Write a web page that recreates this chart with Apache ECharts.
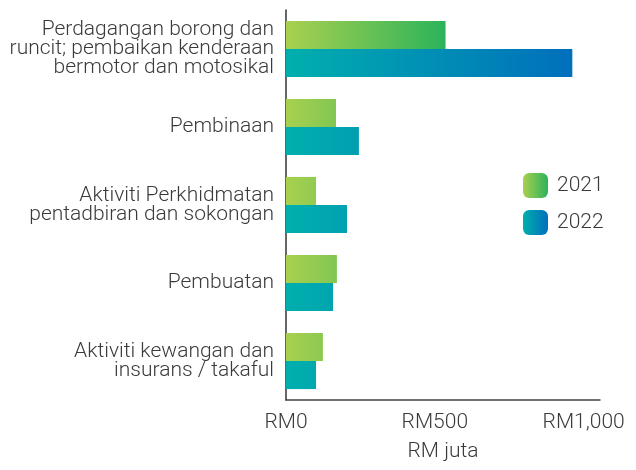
<!DOCTYPE html>
<html>
<head>
<meta charset="utf-8">
<script src="https://cdn.jsdelivr.net/npm/echarts@6/dist/echarts.min.js"></script>
<style>html,body{margin:0;padding:0;background:#fff}#c{width:636px;height:470px}</style>
</head>
<body>
<div id="c"></div>
<script>
const categories = [
  'Perdagangan borong dan\nruncit; pembaikan kenderaan\nbermotor dan motosikal',
  'Pembinaan',
  'Aktiviti Perkhidmatan\npentadbiran dan sokongan',
  'Pembuatan',
  'Aktiviti kewangan dan\ninsurans / takaful'
];
const seriesNames = ['2021', '2022'];
const values2021 = [536, 168, 101, 171, 124];
const values2022 = [962, 245, 205, 158, 101];
const xTicks = [0, 500, 1000];
const xTickLabels = ['RM0', 'RM500', 'RM1,000'];
const xAxisName = 'RM juta';

const grad = (c0, c1, global, x2) => ({
  type: 'linear', x: global ? 286 : 0, y: 0, x2: global ? x2 : 1, y2: 0, global: !!global,
  colorStops: [{offset: 0, color: c0}, {offset: 1, color: c1}]
});
const g21 = ['#a9d04f', '#2bb35a'];
const g22 = ['#00afad', '#006fbc'];

const chart = echarts.init(document.getElementById('c'), null, {renderer: 'canvas'});
chart.setOption({
  animation: false,
  textStyle: {fontFamily: 'Roboto'},
  grid: {left: 286, right: 36, top: 10, bottom: 70, containLabel: false},
  legend: {
    orient: 'vertical', left: 523, top: 173, padding: 0, itemWidth: 25, itemHeight: 25, itemGap: 12,
    textStyle: {fontSize: 21, color: '#3a3a3a', fontFamily: 'Roboto', fontWeight: 300, padding: [0, 0, 0, 4]},
    data: [
      {name: seriesNames[0], itemStyle: {color: grad(g21[0], g21[1])}},
      {name: seriesNames[1], itemStyle: {color: grad(g22[0], g22[1])}}
    ]
  },
  xAxis: {
    type: 'value', min: 0, max: 1055, interval: 500,
    name: xAxisName, nameLocation: 'middle', nameGap: 41,
    nameTextStyle: {fontSize: 21, color: '#3a3a3a', fontWeight: 300},
    axisLine: {show: true, lineStyle: {color: '#444', width: 1.5}},
    axisTick: {show: false},
    splitLine: {show: false},
    axisLabel: {
      fontSize: 21, color: '#3a3a3a', fontWeight: 300, margin: 12, showMaxLabel: false,
      formatter: v => { const i = xTicks.indexOf(v); return i >= 0 ? xTickLabels[i] : ''; }
    }
  },
  yAxis: {
    type: 'category', data: categories, inverse: true,
    axisLine: {show: true, lineStyle: {color: '#333', width: 1.5}},
    axisTick: {show: false},
    axisLabel: {fontSize: 21, color: '#3a3a3a', fontWeight: 300, lineHeight: 19, margin: 12, align: 'right'}
  },
  series: [
    {name: seriesNames[0], type: 'bar', data: values2021, barGap: '0%', barCategoryGap: '28%',
     itemStyle: {color: grad(g21[0], g21[1], true, 446)}},
    {name: seriesNames[1], type: 'bar', data: values2022, barGap: '0%', barCategoryGap: '28%',
     itemStyle: {color: grad(g22[0], g22[1], true, 573)}}
  ]
});
</script>
</body>
</html>
